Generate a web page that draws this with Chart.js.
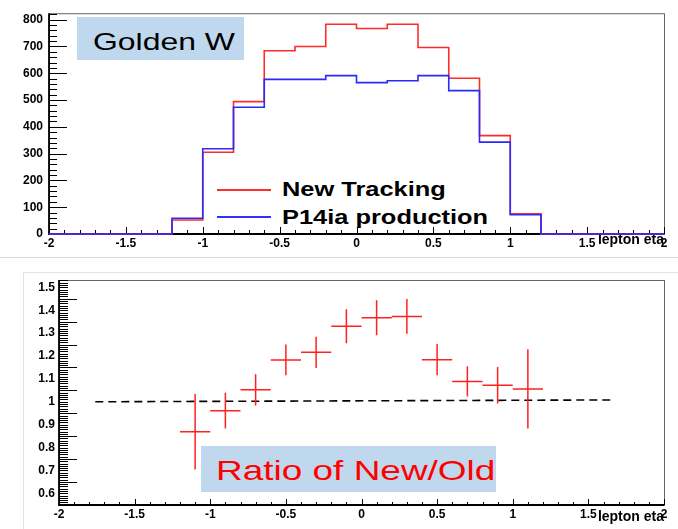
<!DOCTYPE html>
<html>
<head>
<meta charset="utf-8">
<script src="https://cdn.jsdelivr.net/npm/chart.js@4"></script>
<style>
  body { margin: 0; background: #fff; width: 678px; height: 529px; position: relative; overflow: hidden; font-family: "Liberation Sans", Arial, sans-serif; }
  canvas { position: absolute; left: 0; }
  #top { top: 0; }
  #bottom { top: 262px; }
  .sep { position: absolute; left: 0; top: 257px; width: 678px; height: 1px; background: #d8d8d8; }
  .pad { position: absolute; left: 23px; top: 272px; width: 655px; height: 257px; border-top: 1px solid #e4e4e4; border-left: 1px solid #e4e4e4; }
  .box { position: absolute; background: #bfd8ee; }
  .txt { position: absolute; white-space: nowrap; transform-origin: 0 0; }
  .swatch { position: absolute; height: 2px; }
</style>
</head>
<body>
<div class="sep"></div>
<div class="pad"></div>

<div class="box" style="left:77px;top:17px;width:167px;height:43px"></div>
<div class="txt" style="left:93px;top:30px;font-size:24px;line-height:24px;color:#000;transform:scaleX(1.33)">Golden W</div>

<div class="swatch" style="left:217px;top:189px;width:54px;background:#ff3030"></div>
<div class="txt" style="left:282px;top:178px;font-size:21px;line-height:21px;font-weight:bold;transform:scaleX(1.21)">New Tracking</div>
<div class="swatch" style="left:217px;top:216px;width:54px;background:#3030ff"></div>
<div class="txt" style="left:282px;top:206px;font-size:21px;line-height:21px;font-weight:bold;transform:scaleX(1.21)">P14ia production</div>

<canvas id="top" width="678" height="258"></canvas>
<canvas id="bottom" width="678" height="267"></canvas>

<div class="box" style="left:201px;top:446px;width:295px;height:46px"></div>
<div class="txt" style="left:216px;top:457px;font-size:28px;line-height:28px;color:#ff0000;transform:scaleX(1.32)">Ratio of New/Old</div>

<script>
// histogram bins (lepton eta), width 0.2
const binLow = [-1.2, -1.0, -0.8, -0.6, -0.4, -0.2, 0.0, 0.2, 0.4, 0.6, 0.8, 1.0]
const binWidth = 0.2
const newTracking = [52, 305, 494, 684, 700, 783, 767, 783, 696, 581, 367, 75]
const p14ia = [59, 318, 473, 577, 577, 591, 565, 572, 591, 535, 343, 72]

// ratio New/Old at bin centres
const ratioX = [-1.1, -0.9, -0.7, -0.5, -0.3, -0.1, 0.1, 0.3, 0.5, 0.7, 0.9, 1.1]
const ratio = [0.869, 0.961, 1.052, 1.183, 1.216, 1.330, 1.367, 1.373, 1.184, 1.089, 1.072, 1.056]
const ratioErr = [0.165, 0.078, 0.068, 0.067, 0.068, 0.074, 0.076, 0.076, 0.068, 0.066, 0.080, 0.173]

// dashed reference line
const refX = [-1.76, 1.65]
const refY = [1.0, 1.008]

// tick labels
const etaTicks = [-2, -1.5, -1, -0.5, 0, 0.5, 1, 1.5, 2]
const countTicks = [0, 100, 200, 300, 400, 500, 600, 700, 800]
const ratioTicks = [0.6, 0.7, 0.8, 0.9, 1, 1.1, 1.2, 1.3, 1.4, 1.5]

const tickFont = { family: "'Liberation Sans', Arial, sans-serif", weight: 'bold', size: 12 }
const fmt = v => String(Math.round(v * 10) / 10)

function histPoints(counts) {
  const pts = [{ x: -2, y: 0 }]
  counts.forEach((c, i) => pts.push({ x: binLow[i], y: c }))
  pts.push({ x: binLow[binLow.length - 1] + binWidth, y: 0 })
  pts.push({ x: 2, y: 0 })
  return pts
}

// ROOT style frame with ticks drawn inside the pad (under the data)
const rootFrame = {
  id: 'rootFrame',
  beforeDatasetsDraw(chart, args, o) {
    const { ctx, chartArea: a, scales: { x, y } } = chart
    ctx.save()
    ctx.strokeStyle = '#666'
    ctx.lineWidth = 1
    ctx.strokeRect(a.left + 0.5, a.top + 0.5, a.right - a.left, a.bottom - a.top)
    ctx.strokeStyle = '#000'
    ctx.beginPath()
    let n = Math.round((x.max - x.min) / o.xMinor)
    for (let i = 0; i <= n; i++) {
      const v = x.min + i * o.xMinor
      const major = Math.abs(v / o.xMajor - Math.round(v / o.xMajor)) < 1e-6
      const px = Math.round(x.getPixelForValue(v)) + 0.5
      ctx.moveTo(px, a.bottom)
      ctx.lineTo(px, a.bottom - (major ? o.xMajorLen : o.xMinorLen))
    }
    n = Math.floor((y.max - o.yStart) / o.yMinor + 1e-6)
    for (let i = 0; i <= n; i++) {
      const v = o.yStart + i * o.yMinor
      const major = i % o.yPer === 0
      const py = Math.round(y.getPixelForValue(v)) + 0.5
      ctx.moveTo(a.left, py)
      ctx.lineTo(a.left + (major ? o.yMajorLen : o.yMinorLen), py)
    }
    ctx.stroke()
    ctx.lineWidth = 1.8
    ctx.beginPath()
    ctx.moveTo(a.left, a.top)
    ctx.lineTo(a.left, a.bottom)
    ctx.lineTo(a.right, a.bottom)
    ctx.stroke()
    ctx.restore()
  }
}

// cross-shaped error bars
const errorBars = {
  id: 'errorBars',
  afterDatasetsDraw(chart) {
    const { ctx, scales: { x, y } } = chart
    chart.data.datasets.forEach(ds => {
      if (!ds.errY) return
      ctx.save()
      ctx.strokeStyle = ds.borderColor
      ctx.lineWidth = 1.5
      ctx.beginPath()
      ds.data.forEach((p, i) => {
        const px = x.getPixelForValue(p.x), py = y.getPixelForValue(p.y)
        ctx.moveTo(x.getPixelForValue(p.x - ds.errX), py)
        ctx.lineTo(x.getPixelForValue(p.x + ds.errX), py)
        ctx.moveTo(px, y.getPixelForValue(p.y + ds.errY[i]))
        ctx.lineTo(px, y.getPixelForValue(p.y - ds.errY[i]))
      })
      ctx.stroke()
      ctx.restore()
    })
  }
}

function xScale(height, titlePad) {
  return {
    type: 'linear', min: -2, max: 2,
    afterBuildTicks: s => { s.ticks = etaTicks.map(v => ({ value: v })) },
    afterFit: s => { s.height = height },
    grid: { display: false, drawTicks: false }, border: { display: false },
    ticks: { font: tickFont, color: '#000', padding: 2, maxRotation: 0, autoSkip: false, callback: fmt },
    title: { display: true, text: 'lepton eta', align: 'end', color: '#000', padding: { top: 0, bottom: titlePad },
      font: { family: "'Liberation Sans', Arial, sans-serif", weight: 'bold', size: 14 } }
  }
}

new Chart(document.getElementById('top'), {
  type: 'line',
  data: {
    datasets: [{
      label: 'P14ia production',
      data: histPoints(p14ia),
      borderColor: '#2a2aff',
      borderWidth: 1.6,
      stepped: true,
      pointRadius: 0,
      clip: 4
    }, {
      label: 'New Tracking',
      data: histPoints(newTracking),
      borderColor: '#ff2a2a',
      borderWidth: 1.6,
      stepped: true,
      pointRadius: 0,
      clip: 4
    }]
  },
  options: {
    responsive: false,
    animation: false,
    layout: { padding: { left: 0, right: 14, top: 8, bottom: 0 } },
    scales: {
      x: xScale(24, 9),
      y: {
        min: 0, max: 824,
        afterBuildTicks: s => { s.ticks = countTicks.map(v => ({ value: v })) },
        afterFit: s => { s.width = 49 },
        grid: { display: false, drawTicks: false }, border: { display: false },
        ticks: { font: tickFont, color: '#000', padding: 6 }
      }
    },
    plugins: {
      legend: { display: false },
      tooltip: { enabled: false },
      rootFrame: { xMajor: 0.5, xMinor: 0.1, xMajorLen: 7, xMinorLen: 4, yStart: 0, yMinor: 20, yPer: 5, yMajorLen: 18, yMinorLen: 8 }
    }
  },
  plugins: [rootFrame]
})

new Chart(document.getElementById('bottom'), {
  type: 'scatter',
  data: {
    datasets: [{
      label: 'New/Old',
      data: ratioX.map((x, i) => ({ x: x, y: ratio[i] })),
      errY: ratioErr,
      errX: binWidth / 2,
      borderColor: '#ff2020',
      pointRadius: 0
    }, {
      type: 'line',
      label: 'reference',
      data: refX.map((x, i) => ({ x: x, y: refY[i] })),
      borderColor: '#000',
      borderWidth: 1.6,
      borderDash: [8, 5],
      pointRadius: 0
    }]
  },
  options: {
    responsive: false,
    animation: false,
    layout: { padding: { left: 0, right: 14, top: 18, bottom: 0 } },
    scales: {
      x: xScale(24, 3),
      y: {
        min: 0.549, max: 1.532,
        afterBuildTicks: s => { s.ticks = ratioTicks.map(v => ({ value: v })) },
        afterFit: s => { s.width = 59 },
        grid: { display: false, drawTicks: false }, border: { display: false },
        ticks: { font: tickFont, color: '#000', padding: 4, callback: fmt }
      }
    },
    plugins: {
      legend: { display: false },
      tooltip: { enabled: false },
      rootFrame: { xMajor: 0.5, xMinor: 0.1, xMajorLen: 6, xMinorLen: 3, yStart: 0.55, yMinor: 0.01, yPer: 10, yMajorLen: 18, yMinorLen: 9 }
    }
  },
  plugins: [rootFrame, errorBars]
})
</script>
</body>
</html>
